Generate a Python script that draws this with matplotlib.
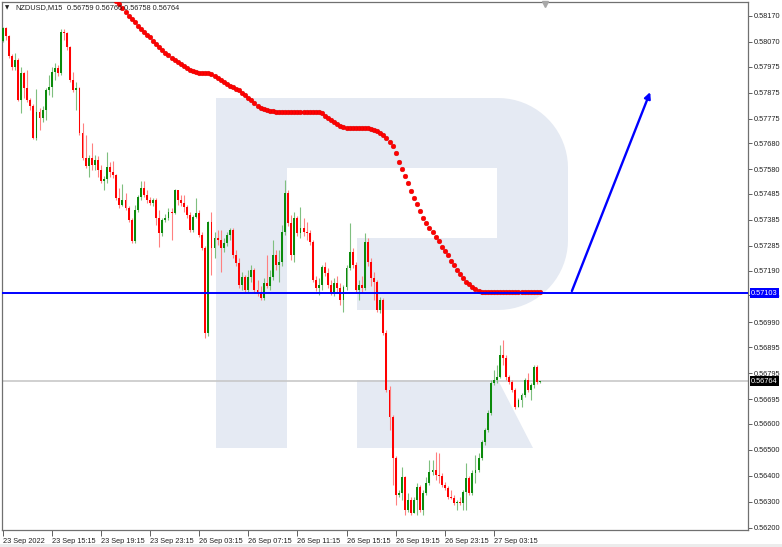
# NZDUSD M15 candles with MA dots, level line and target arrow (MT4-style screenshot)

import numpy as np
import matplotlib.pyplot as plt
import matplotlib.transforms as mtransforms
from matplotlib.path import Path
from matplotlib.patches import PathPatch, Polygon, Rectangle


############################# DATA #############################
first_open = 0.58074

close = [
    58124, 58093, 58016, 57974, 58001, 57847, 57951, 57893, 57847, 57823,
    57700, 57800, 57777, 57808, 57885, 57897, 57954, 57970, 57951, 58108,
    58105, 58051, 57924, 57885, 57893, 57720, 57623, 57592, 57623, 57596,
    57616, 57577, 57535, 57542, 57589, 57569, 57558, 57469, 57442, 57462,
    57431, 57385, 57304, 57423, 57473, 57508, 57481, 57462, 57450, 57462,
    57392, 57335, 57385, 57392, 57415, 57412, 57500, 57462, 57450, 57435,
    57404, 57346, 57396, 57412, 57327, 57277, 56950, 57377, 57277, 57315,
    57308, 57277, 57296, 57327, 57346, 57250, 57219, 57134, 57165, 57115,
    57165, 57192, 57115, 57107, 57084, 57142, 57131, 57165, 57250, 57211,
    57223, 57338, 57489, 57373, 57250, 57392, 57335, 57354, 57338, 57335,
    57300, 57154, 57123, 57134, 57204, 57181, 57134, 57107, 57142, 57123,
    57077, 57127, 57200, 57261, 57211, 57115, 57134, 57123, 57300, 57223,
    57161, 57146, 57038, 57077, 56950, 56730, 56626, 56468, 56326, 56334,
    56395, 56268, 56307, 56257, 56307, 56357, 56268, 56334, 56372, 56414,
    56422, 56403, 56399, 56364, 56353, 56318, 56314, 56295, 56299, 56295,
    56337, 56391, 56334, 56411, 56422, 56468, 56530, 56576, 56642, 56757,
    56769, 56780, 56865, 56853, 56780, 56761, 56730, 56665, 56692, 56711,
    56769, 56730, 56749, 56819, 56759, 56764]

high = [
    58128, 58128, 58097, 58024, 58028, 58008, 57974, 57954, 57962, 57854,
    57831, 57889, 57816, 57823, 57893, 57943, 57974, 57989, 57981, 58120,
    58120, 58108, 58054, 57954, 57916, 57897, 57758, 57712, 57635, 57681,
    57635, 57631, 57596, 57554, 57646, 57608, 57612, 57562, 57508, 57523,
    57489, 57438, 57392, 57442, 57481, 57535, 57535, 57500, 57473, 57469,
    57469, 57423, 57392, 57408, 57431, 57431, 57504, 57500, 57481, 57481,
    57442, 57415, 57404, 57469, 57423, 57338, 57285, 57381, 57415, 57338,
    57346, 57346, 57315, 57338, 57354, 57354, 57269, 57238, 57184, 57173,
    57192, 57211, 57200, 57154, 57131, 57161, 57250, 57192, 57308, 57269,
    57269, 57365, 57539, 57500, 57404, 57415, 57400, 57435, 57392, 57377,
    57346, 57308, 57169, 57161, 57211, 57223, 57200, 57154, 57161, 57169,
    57142, 57134, 57211, 57373, 57277, 57223, 57154, 57169, 57335, 57315,
    57238, 57184, 57154, 57088, 57084, 56961, 56746, 56634, 56476, 56345,
    56434, 56399, 56334, 56318, 56318, 56372, 56364, 56345, 56395, 56461,
    56461, 56491, 56488, 56411, 56376, 56360, 56345, 56326, 56307, 56318,
    56345, 56449, 56399, 56422, 56480, 56488, 56538, 56584, 56653, 56769,
    56807, 56826, 56903, 56923, 56865, 56788, 56769, 56738, 56699, 56719,
    56776, 56796, 56757, 56826, 56826, 56766]

low = [
    58070, 58078, 58008, 57962, 57962, 57843, 57797, 57854, 57839, 57808,
    57696, 57693, 57731, 57762, 57770, 57866, 57858, 57924, 57939, 57943,
    58078, 58039, 57916, 57877, 57808, 57712, 57616, 57585, 57550, 57577,
    57577, 57550, 57527, 57500, 57527, 57550, 57546, 57462, 57431, 57438,
    57423, 57377, 57296, 57296, 57415, 57462, 57473, 57450, 57442, 57438,
    57365, 57281, 57323, 57377, 57385, 57308, 57408, 57442, 57438, 57415,
    57392, 57338, 57338, 57392, 57319, 57269, 56930, 56938, 57173, 57238,
    57288, 57184, 57261, 57285, 57308, 57238, 57208, 57123, 57115, 57107,
    57107, 57146, 57104, 57092, 57077, 57077, 57123, 57115, 57154, 57192,
    57146, 57208, 57327, 57361, 57231, 57223, 57323, 57315, 57323, 57308,
    57288, 57146, 57111, 57096, 57115, 57169, 57123, 57096, 57092, 57107,
    57057, 57030, 57115, 57192, 57200, 57104, 57077, 57107, 57115, 57208,
    57131, 57077, 57030, 57027, 56942, 56722, 56576, 56364, 56287, 56318,
    56307, 56249, 56260, 56249, 56257, 56249, 56260, 56249, 56326, 56364,
    56403, 56384, 56372, 56357, 56345, 56310, 56310, 56287, 56268, 56287,
    56268, 56268, 56326, 56326, 56372, 56414, 56461, 56518, 56568, 56634,
    56749, 56757, 56776, 56826, 56769, 56753, 56722, 56657, 56665, 56665,
    56703, 56722, 56692, 56738, 56753, 56758]

# moving average (dotted red), starts at candle 36
ma_start = 36
ma = [
    58239, 58228, 58216, 58201, 58185, 58170, 58158, 58147, 58131, 58120,
    58108, 58097, 58089, 58074, 58062, 58051, 58039, 58028, 58020, 58008,
    58001, 57993, 57985, 57977, 57970, 57962, 57958, 57954, 57951, 57951,
    57951, 57951, 57947, 57939, 57931, 57924, 57916, 57908, 57900, 57897,
    57889, 57885, 57874, 57866, 57854, 57847, 57835, 57823, 57816, 57812,
    57808, 57804, 57804, 57800, 57800, 57800, 57800, 57800, 57800, 57800,
    57800, 57800, 57800, 57800, 57800, 57800, 57800, 57800, 57797, 57785,
    57777, 57770, 57762, 57754, 57746, 57743, 57739, 57739, 57739, 57739,
    57739, 57739, 57739, 57739, 57735, 57731, 57727, 57720, 57712, 57700,
    57685, 57670, 57643, 57608, 57581, 57554, 57527, 57496, 57469, 57446,
    57419, 57392, 57373, 57354, 57338, 57319, 57304, 57281, 57265, 57250,
    57227, 57211, 57192, 57177, 57161, 57146, 57138, 57127, 57119, 57111,
    57107, 57107, 57107, 57107, 57107, 57107, 57107, 57107, 57107, 57107,
    57107, 57107, 57107, 57107, 57107, 57107, 57107, 57107, 57107, 57107]

last_open = 0.56759
level_price = 0.57103
bid_price = 0.56764

# arrow (candle index, price)
arrow_start = (185.4, 0.57111)
arrow_end = (210.9, 0.57877)

ytick_vals = [0.58170, 0.58070, 0.57975, 0.57875, 0.57775, 0.57680, 0.57580,
              0.57485, 0.57385, 0.57285, 0.57190, 0.57095, 0.56990, 0.56895,
              0.56795, 0.56695, 0.56600, 0.56500, 0.56400, 0.56300, 0.56200]

xtick_idx = [0, 16, 32, 48, 64, 80, 96, 112, 128, 144, 160]
xtick_labels = ['23 Sep 2022', '23 Sep 15:15', '23 Sep 19:15', '23 Sep 23:15',
                '26 Sep 03:15', '26 Sep 07:15', '26 Sep 11:15', '26 Sep 15:15',
                '26 Sep 19:15', '26 Sep 23:15', '27 Sep 03:15']

symbol = 'NZDUSD,M15'


############################# SETUP #############################
W, H = 782, 547
FONT = 'Liberation Sans'
FS = 5.3

close = np.array(close) / 1e5
high = np.array(high) / 1e5
low = np.array(low) / 1e5
ma = np.array(ma) / 1e5
opens = np.r_[first_open, close[:-1]]
opens[-1] = last_open
idx = np.arange(len(close))

fig = plt.figure(figsize=(W / 100, H / 100), dpi=100)
fig.patch.set_facecolor('white')
ax = fig.add_axes([2 / W, 1 - 530 / H, 746 / W, 528 / H])
ax.set_xlim(-0.23, 242.77)
ax.set_ylim(0.561911, 0.582239)

# pixel -> figure transform, for decoration
px = mtransforms.Affine2D().scale(1 / W, -1 / H).translate(0, 1) + fig.transFigure

############################# WATERMARK #############################
logo_col = '#e5eaf3'


def arc(cx, cy, r, a0, a1, n=20):
    a = np.radians(np.linspace(a0, a1, n))
    return list(zip(cx + r * np.cos(a), cy - r * np.sin(a)))


body = [(216, 98), (498, 98)] + arc(498, 168, 70, 90, 0) + [(568, 240)] + \
    arc(498, 240, 70, 0, -90) + [(357, 310), (357, 238), (497, 238),
                                 (497, 168), (287, 168), (287, 448), (216, 448)]
ax.add_patch(Polygon(body, closed=True, fc=logo_col, ec='none',
                     transform=px, zorder=0))
ax.add_patch(Polygon([(357, 380), (498, 380), (533, 448), (357, 448)],
                     closed=True, fc=logo_col, ec='none', transform=px, zorder=0))

############################# CANDLES #############################
up = close >= opens
wick_cols = np.where(up, '#7fbf7f', '#ff8080')
body_cols = np.where(up, '#0b8a0b', '#ff0000')

ax.axhline(bid_price, color='#c8c8c8', lw=1.2, zorder=1)

ax.vlines(idx, low, high, colors=wick_cols, lw=0.8, zorder=2)
ax.bar(idx, np.maximum(np.abs(close - opens), 0.00003),
       bottom=np.minimum(opens, close), width=0.62, color=body_cols,
       linewidth=0, zorder=3)

# MA dots
ma_x = np.arange(ma_start, ma_start + len(ma))
ax.plot(ma_x, ma, 'o', color='#ff0000', ms=3.4, mec='#d80000', mew=0.3, zorder=4)

# level and arrow
ax.axhline(level_price, color='#0000ff', lw=1.4, zorder=5)
ax.annotate('', xy=arrow_end, xytext=arrow_start,
            arrowprops=dict(arrowstyle='-|>', color='#0000ff', lw=1.7,
                            mutation_scale=9, shrinkA=0, shrinkB=0), zorder=6)

############################# AXES #############################
for s in ax.spines.values():
    s.set_color('#707070')
    s.set_linewidth(0.9)

ax.yaxis.tick_right()
ax.set_yticks(ytick_vals)
ax.set_yticklabels(['%.5f' % v for v in ytick_vals], fontsize=FS, family=FONT,
                   color='#222222')
ax.tick_params(axis='y', length=3, width=0.7, color='#606060', pad=1.5)

ax.set_xticks(xtick_idx)
ax.set_xticklabels(xtick_labels, fontsize=FS, family=FONT, ha='left',
                   color='#222222')
ax.tick_params(axis='x', length=4, width=0.7, color='#606060', pad=1.5)

# price labels on the scale
lbl = mtransforms.blended_transform_factory(ax.transAxes, ax.transData)
ax.text(1.0 + 3 / 746, level_price, '%.5f' % level_price, transform=lbl,
        ha='left', va='center', fontsize=FS, family=FONT, color='white',
        bbox=dict(boxstyle='square,pad=0.2', fc='#0000ff', ec='none'), zorder=7)
ax.text(1.0 + 3 / 746, bid_price, '%.5f' % close[-1], transform=lbl,
        ha='left', va='center', fontsize=FS, family=FONT, color='white',
        bbox=dict(boxstyle='square,pad=0.2', fc='#000000', ec='none'), zorder=7)

# header
fig.text(5 / W, 1 - 8 / H, '▼', fontsize=4, family='DejaVu Sans', va='center',
         color='#222222')
fig.text(15 / W, 1 - 8 / H, symbol, fontsize=FS, family=FONT, va='center',
         color='#222222')
fig.text(67 / W, 1 - 8 / H, '%.5f %.5f %.5f %.5f' % (opens[-1], high[-1], low[-1], close[-1]),
         fontsize=FS, family=FONT, va='center', color='#222222')

# chart shift marker and bottom strip
ax.plot([545], [4], marker='v', ms=4, color='#a8a8a8', transform=px,
        clip_on=False, zorder=8)
fig.patches.append(Rectangle((0, 0), 1, 3 / H, transform=fig.transFigure,
                             fc='#ececec', ec='none'))

fig.savefig('out.png', dpi=100)
